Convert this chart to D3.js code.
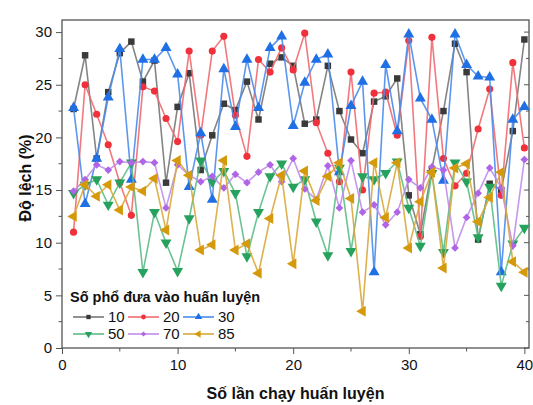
<!DOCTYPE html>
<html>
<head>
<meta charset="utf-8">
<script src="https://cdn.jsdelivr.net/npm/d3@7"></script>
<style>
  html, body { margin: 0; padding: 0; background: #fff; }
  #chart { width: 533px; height: 405px; }
  text { font-family: Arial, "Liberation Sans", sans-serif; fill: #111; }
</style>
</head>
<body>
<div id="chart"></div>
<script>
(function () {
  const WIDTH = 533;
  const HEIGHT = 405;
  const BOX = { left: 62, right: 529, top: 20, bottom: 348 };

  // run number 1..40
  const runs = d3.range(1, 41);

  const s10 = [22.7, 27.8, 18.0, 24.3, 28.0, 29.1, 25.3, 27.3, 15.7, 22.9,
               26.1, 16.9, 20.2, 23.2, 22.6, 25.3, 21.7, 27.0, 27.6, 26.8,
               21.3, 21.7, 26.8, 22.5, 19.8, 18.5, 23.4, 23.9, 25.6, 14.5,
               10.8, 17.0, 22.5, 28.9, 26.2, 10.3, 15.6, 15.0, 20.6, 29.3];
  const s20 = [11.0, 25.0, 22.2, 19.3, 15.7, 12.6, 24.8, 24.4, 21.8, 19.6,
               28.2, 20.2, 28.2, 29.6, 22.1, 18.2, 27.4, 26.2, 28.5, 26.4,
               29.9, 21.4, 18.5, 15.8, 26.2, 15.0, 24.2, 24.3, 20.2, 29.2,
               10.6, 29.5, 18.0, 15.4, 16.6, 20.8, 24.6, 14.5, 27.1, 19.0];
  const s30 = [22.8, 13.7, 18.0, 23.8, 28.4, 16.0, 27.4, 27.4, 28.5, 26.0,
               15.3, 20.4, 14.1, 26.5, 21.0, 27.4, 22.8, 28.5, 29.6, 21.1,
               25.2, 27.4, 27.9, 16.7, 23.0, 25.3, 7.2, 26.9, 20.6, 29.8,
               23.7, 21.7, 15.9, 29.8, 26.9, 25.8, 25.7, 7.2, 21.7, 22.9];
  const s50 = [14.7, 15.5, 16.0, 13.6, 15.7, 17.6, 7.2, 12.9, 10.0, 7.3,
               12.3, 17.8, 15.8, 16.8, 14.7, 8.7, 12.9, 16.3, 17.5, 15.3,
               16.0, 12.0, 8.8, 17.1, 9.2, 16.3, 16.0, 16.6, 17.7, 13.3,
               9.7, 16.6, 9.1, 17.6, 15.8, 10.5, 15.3, 5.9, 9.9, 11.4];
  const s70 = [14.9, 16.0, 17.4, 16.9, 17.7, 17.6, 17.7, 17.6, 13.3, 17.4,
               16.4, 15.8, 16.3, 15.2, 16.5, 15.7, 16.7, 17.4, 15.8, 18.0,
               15.1, 14.1, 17.3, 13.3, 17.8, 12.9, 13.6, 11.7, 12.9, 16.0,
               15.2, 17.2, 16.9, 9.5, 12.4, 14.7, 17.1, 15.2, 9.7, 17.9];
  const s85 = [12.5, 15.5, 14.4, 15.5, 13.1, 15.3, 14.9, 16.1, 11.2, 17.8,
               16.4, 9.3, 9.8, 17.8, 9.3, 9.9, 7.1, 12.3, 16.4, 8.0,
               16.8, 14.0, 16.3, 17.6, 14.2, 3.5, 17.6, 12.4, 17.6, 9.5,
               13.9, 16.7, 7.6, 17.1, 17.5, 12.0, 14.3, 16.7, 8.2, 7.2];

  const seriesNames = ["10", "20", "30", "50", "70", "85"];
  const xTicks = [0, 10, 20, 30, 40];
  const yTicks = [0, 5, 10, 15, 20, 25, 30];

  const SERIES = [
    { name: seriesNames[0], values: s10, color: "#3a3a3a", line: "#777777", symbol: d3.symbolSquare, size: 42, rot: 0 },
    { name: seriesNames[1], values: s20, color: "#f0303a", line: "#f06a70", symbol: d3.symbolCircle, size: 40, rot: 0 },
    { name: seriesNames[2], values: s30, color: "#1f6fe5", line: "#4a8ceb", symbol: d3.symbolTriangle, size: 52, rot: 0 },
    { name: seriesNames[3], values: s50, color: "#26a25e", line: "#5cbc85", symbol: d3.symbolTriangle, size: 52, rot: 180 },
    { name: seriesNames[4], values: s70, color: "#b064e6", line: "#c18ceb", symbol: d3.symbolSquare, size: 30, rot: 45 },
    { name: seriesNames[5], values: s85, color: "#d59a0c", line: "#d9a93a", symbol: d3.symbolTriangle, size: 52, rot: -90 }
  ];

  const svg = d3.select("#chart").append("svg")
    .attr("width", WIDTH)
    .attr("height", HEIGHT);

  const x = d3.scaleLinear().domain([0, 40.4]).range([BOX.left, BOX.right]);
  const y = d3.scaleLinear().domain([0, 31.15]).range([BOX.bottom, BOX.top]);

  // frame
  svg.append("rect")
    .attr("x", BOX.left)
    .attr("y", BOX.top)
    .attr("width", BOX.right - BOX.left)
    .attr("height", BOX.bottom - BOX.top)
    .attr("fill", "none")
    .attr("stroke", "#555")
    .attr("stroke-width", 1.3);

  // bottom axis
  const xAxis = svg.append("g")
    .attr("transform", `translate(0,${BOX.bottom})`)
    .call(d3.axisBottom(x).tickValues(xTicks).tickFormat(d3.format("d")).tickSize(6).tickPadding(5));
  xAxis.append("g").selectAll("line")
    .data([5, 15, 25, 35])
    .join("line")
    .attr("x1", d => x(d)).attr("x2", d => x(d))
    .attr("y1", 0).attr("y2", 3.5)
    .attr("stroke", "#555");

  // left axis
  const yAxis = svg.append("g")
    .attr("transform", `translate(${BOX.left},0)`)
    .call(d3.axisLeft(y).tickValues(yTicks).tickSize(6).tickPadding(4));
  yAxis.append("g").selectAll("line")
    .data([2.5, 7.5, 12.5, 17.5, 22.5, 27.5])
    .join("line")
    .attr("y1", d => y(d)).attr("y2", d => y(d))
    .attr("x1", 0).attr("x2", -3.5)
    .attr("stroke", "#555");

  // right side inward ticks
  svg.append("g").selectAll("line")
    .data([0, 2.5, 5, 7.5, 10, 12.5, 15, 17.5, 20, 22.5, 25, 27.5, 30])
    .join("line")
    .attr("y1", d => y(d)).attr("y2", d => y(d))
    .attr("x1", BOX.right).attr("x2", d => BOX.right - (d % 5 === 0 ? 5 : 3))
    .attr("stroke", "#555");

  [xAxis, yAxis].forEach(g => {
    g.select(".domain").remove();
    g.selectAll(".tick line").attr("stroke", "#555");
    g.selectAll("text")
      .attr("font-size", "15px")
      .attr("font-family", "Arial, 'Liberation Sans', sans-serif")
      .attr("fill", "#111");
  });

  // series
  const line = d3.line()
    .x((d, i) => x(runs[i]))
    .y(d => y(d));

  SERIES.forEach(s => {
    const g = svg.append("g");
    g.append("path")
      .datum(s.values)
      .attr("d", line)
      .attr("fill", "none")
      .attr("stroke", s.line)
      .attr("stroke-opacity", 0.9)
      .attr("stroke-width", 1.6);
    g.selectAll("path.pt")
      .data(s.values)
      .join("path")
      .attr("class", "pt")
      .attr("d", d3.symbol(s.symbol, s.size))
      .attr("transform", (d, i) => `translate(${x(runs[i])},${y(d)}) rotate(${s.rot})`)
      .attr("fill", s.color);
  });

  // axis titles
  svg.append("text")
    .attr("transform", `translate(31,${(BOX.top + BOX.bottom) / 2 - 6}) rotate(-90)`)
    .attr("text-anchor", "middle")
    .attr("font-size", "16px")
    .attr("font-weight", "700")
    .text("Độ lệch (%)");

  svg.append("text")
    .attr("x", (BOX.left + BOX.right) / 2)
    .attr("y", 399)
    .attr("text-anchor", "middle")
    .attr("font-size", "16px")
    .attr("font-weight", "700")
    .text("Số lần chạy huấn luyện");

  // legend
  const legend = svg.append("g").attr("transform", "translate(70,0)");
  legend.append("text")
    .attr("x", 0)
    .attr("y", 302)
    .attr("font-size", "14.5px")
    .attr("font-weight", "700")
    .text("Số phổ đưa vào huấn luyện");

  const item = legend.selectAll("g.item")
    .data(SERIES)
    .join("g")
    .attr("class", "item")
    .attr("transform", (d, i) => `translate(${3 + (i % 3) * 55},${i < 3 ? 317 : 334})`);
  item.append("line")
    .attr("x1", 0).attr("x2", 31)
    .attr("stroke", d => d.line)
    .attr("stroke-width", 1.6);
  item.append("path")
    .attr("d", d => d3.symbol(d.symbol, d.size * 0.45)())
    .attr("transform", d => `translate(15.5,0) rotate(${d.rot})`)
    .attr("fill", d => d.color);
  item.append("text")
    .attr("x", 35)
    .attr("y", 5)
    .attr("font-size", "15px")
    .text(d => d.name);
})();
</script>
</body>
</html>
